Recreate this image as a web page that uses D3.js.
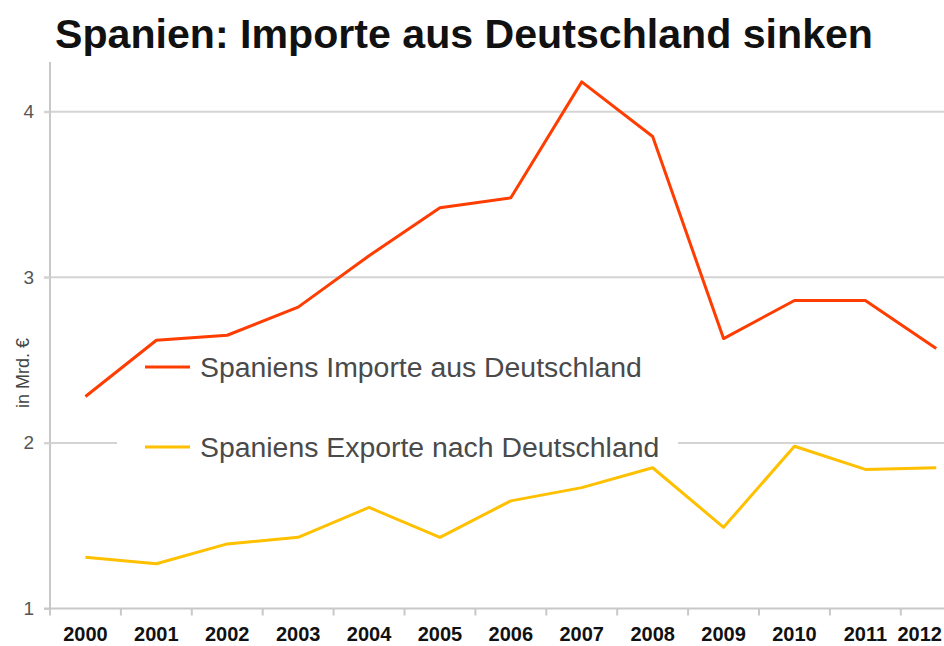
<!DOCTYPE html>
<html>
<head>
<meta charset="utf-8">
<script src="https://cdn.jsdelivr.net/npm/d3@7"></script>
<style>
  html, body { margin: 0; padding: 0; background: #ffffff; }
  svg { display: block; }
</style>
</head>
<body>
<svg id="chart" width="944" height="646"></svg>
<script>
const years = ["2000","2001","2002","2003","2004","2005","2006","2007","2008","2009","2010","2011","2012"];
const importe = [2.28, 2.62, 2.65, 2.82, 3.13, 3.42, 3.48, 4.18, 3.85, 2.63, 2.86, 2.86, 2.57];
const exporte = [1.31, 1.27, 1.39, 1.43, 1.61, 1.43, 1.65, 1.73, 1.85, 1.49, 1.98, 1.84, 1.85];
const yTicks = [1, 2, 3, 4];
const seriesNames = ["Spaniens Importe aus Deutschland", "Spaniens Exporte nach Deutschland"];
const title = "Spanien: Importe aus Deutschland sinken";
const yTitle = "in Mrd. €";

(function () {
const W = 944, H = 646;
const svg = d3.select("#chart");
const mLeft = 50, mTop = 62, mBottom = 608.5, bandW = 70.9;
const colors = ["#ff3d00", "#ffc000"];

const x = d3.scaleBand().domain(years).range([mLeft, mLeft + years.length * bandW]).padding(0);
const y = d3.scaleLinear().domain([1, 4]).range([mBottom, mBottom - 3 * 165.6]);

// title
svg.append("text")
  .attr("x", 55).attr("y", 48)
  .attr("font-family", "Liberation Sans, Arial, sans-serif")
  .attr("font-weight", "bold")
  .attr("font-size", 41)
  .attr("textLength", 818)
  .attr("lengthAdjust", "spacingAndGlyphs")
  .attr("fill", "#111")
  .text(title);

// gridlines
svg.append("g").selectAll("line").data(yTicks.filter(d => d > 1)).join("line")
  .attr("x1", mLeft - 6).attr("x2", W)
  .attr("y1", d => y(d)).attr("y2", d => y(d))
  .attr("stroke", "#d4d4d4").attr("stroke-width", 2);

// y axis
const yAxis = svg.append("g").attr("transform", `translate(${mLeft},0)`)
  .call(d3.axisLeft(y).tickValues(yTicks).tickSize(6).tickPadding(10).tickFormat(d3.format("d")));
yAxis.select(".domain").attr("stroke", "#c8c8c8").attr("stroke-width", 2)
  .attr("d", `M0,${mTop}V${mBottom}`);
yAxis.selectAll(".tick line").attr("stroke", "#d4d4d4").attr("stroke-width", 2);
yAxis.selectAll(".tick text")
  .attr("font-family", "Liberation Sans, Arial, sans-serif")
  .attr("font-size", 19).attr("fill", "#555");

// y title
svg.append("text")
  .attr("transform", `translate(29,${(y(2) + y(3)) / 2 + 13}) rotate(-90)`)
  .attr("text-anchor", "middle")
  .attr("font-family", "Liberation Sans, Arial, sans-serif")
  .attr("font-size", 18).attr("fill", "#444")
  .text(yTitle);

// x axis
const xAxis = svg.append("g").attr("transform", `translate(0,${mBottom})`)
  .call(d3.axisBottom(x).tickSize(0).tickPadding(18));
xAxis.select(".domain").attr("stroke", "#c8c8c8").attr("stroke-width", 2)
  .attr("d", `M${mLeft - 6},0H${W}`);
xAxis.selectAll(".tick text")
  .attr("font-family", "Liberation Sans, Arial, sans-serif")
  .attr("font-weight", "bold")
  .attr("font-size", 20).attr("fill", "#111");
// keep last label inside the picture
xAxis.selectAll(".tick text").each(function () {
  const bb = this.getBBox();
  const tr = this.parentNode.transform.baseVal.consolidate().matrix.e;
  const right = tr + bb.x + bb.width;
  if (right > W - 2) d3.select(this).attr("dx", (W - 2 - right) + "px");
});
// tick marks at band boundaries
svg.append("g").selectAll("line").data(years).join("line")
  .attr("x1", d => x(d)).attr("x2", d => x(d))
  .attr("y1", mBottom).attr("y2", mBottom + 7)
  .attr("stroke", "#c8c8c8").attr("stroke-width", 2);

// legend background (covers gridline)
svg.append("rect")
  .attr("x", 117).attr("y", 380).attr("width", 561).attr("height", 78)
  .attr("fill", "#ffffff");

// lines
const line = d3.line().x((d, i) => x(years[i]) + x.bandwidth() / 2).y(d => y(d));
[importe, exporte].forEach((s, k) => {
  svg.append("path").datum(s)
    .attr("d", line)
    .attr("fill", "none")
    .attr("stroke", colors[k])
    .attr("stroke-width", 3)
    .attr("stroke-linejoin", "round");
});

// legend
const leg = svg.append("g");
const legY = [367, 447];
seriesNames.forEach((n, k) => {
  leg.append("line")
    .attr("x1", 145).attr("x2", 190)
    .attr("y1", legY[k]).attr("y2", legY[k])
    .attr("stroke", colors[k]).attr("stroke-width", 3);
  leg.append("text")
    .attr("x", 200).attr("y", legY[k] + 10)
    .attr("font-family", "Liberation Sans, Arial, sans-serif")
    .attr("font-size", 28.4).attr("fill", "#4a4a4a")
    .text(n);
});
})();
</script>
</body>
</html>
